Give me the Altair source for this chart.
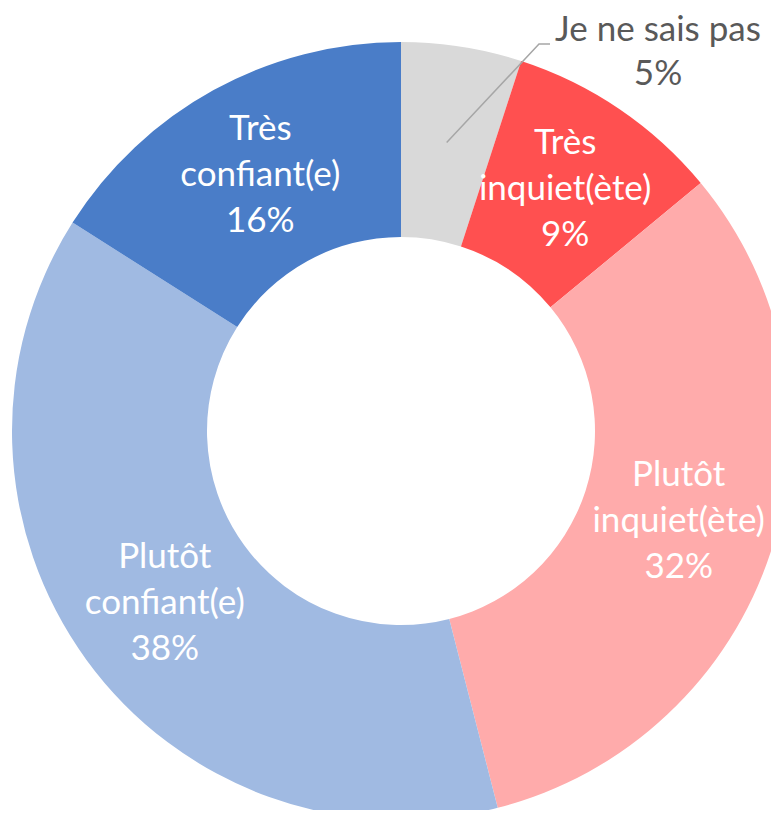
import math
import altair as alt
import pandas as pd

# ---- data ----
categories = ["Je ne sais pas", "Très inquiet(ète)", "Plutôt inquiet(ète)",
              "Plutôt confiant(e)", "Très confiant(e)"]
label_lines = ["Je ne sais pas", "Très\ninquiet(ète)", "Plutôt\ninquiet(ète)",
               "Plutôt\nconfiant(e)", "Très\nconfiant(e)"]
values = [5, 9, 32, 38, 16]
colors = ["#D9D9D9", "#FF5050", "#FFABAB", "#A0BAE2", "#4A7DC8"]

# ---- layout / style ----
W, H = 763, 802
CX, CY = 393, 423
R_OUT, R_IN, R_LAB = 389, 194, 292
FONT = "Lato"
FS = 35
LH = 46

df = pd.DataFrame({
    "cat": categories,
    "value": values,
    "idx": list(range(len(categories))),
})
df["inner"] = [("" if i == 0 else f"{label_lines[i]}\n{values[i]}%")
               for i in range(len(categories))]

base = alt.Chart(df).encode(
    theta=alt.Theta("value:Q", stack=True),
    order=alt.Order("idx:Q"),
    x=alt.value(CX),
    y=alt.value(CY),
)

arcs = base.mark_arc(outerRadius=R_OUT, innerRadius=R_IN).encode(
    color=alt.Color("cat:N", scale=alt.Scale(domain=categories, range=colors), legend=None)
)

texts = base.mark_text(radius=R_LAB, font=FONT, fontSize=FS, lineHeight=LH,
                       lineBreak="\n", color="white", align="center",
                       baseline="middle", dy=-LH).encode(text="inner:N")

# outside label for the first (small) slice, with a leader line
total = sum(values)
mid = (values[0] / 2) / total * 2 * math.pi
sx = CX + R_LAB * math.sin(mid)
sy = CY - R_LAB * math.cos(mid)
LAB_X, LAB_Y = 650, 22
ex, ey = LAB_X - 119, LAB_Y + 14
lead = pd.DataFrame({"x": [sx, ex, ex + 11], "y": [sy, ey, ey], "o": [0, 1, 2]})
leader = alt.Chart(lead).mark_line(color="#A6A6A6", strokeWidth=1.5).encode(
    x=alt.X("x:Q", scale=alt.Scale(domain=[0, W], range=[0, W]), axis=None),
    y=alt.Y("y:Q", scale=alt.Scale(domain=[0, H], range=[0, H]), axis=None),
    order="o:Q",
)
out_df = pd.DataFrame({"t": [f"{label_lines[0]}\n{values[0]}%"]})
out_label = alt.Chart(out_df).mark_text(
    font=FONT, fontSize=FS, lineHeight=44, lineBreak="\n", color="#595959",
    align="center", baseline="middle").encode(
    text="t:N", x=alt.value(LAB_X), y=alt.value(LAB_Y))

chart = alt.layer(arcs, texts, leader, out_label).properties(
    width=W, height=H, padding=0, autosize="none"
).configure_view(stroke=None)

chart.save("out.html", embed_options={"renderer": "svg", "actions": False})
